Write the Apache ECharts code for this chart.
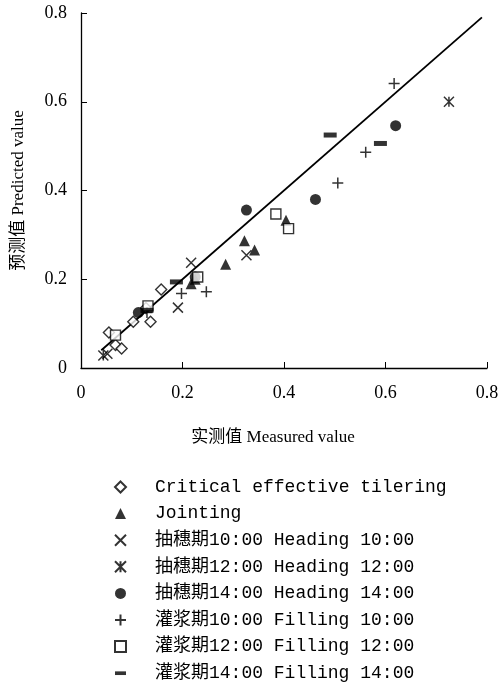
<!DOCTYPE html>
<html>
<head>
<meta charset="utf-8">
<script src="https://cdn.jsdelivr.net/npm/echarts@6/dist/echarts.min.js"></script>
<style>
  html, body { margin: 0; padding: 0; background: #fff; }
  #chart { width: 503px; height: 688px; }
</style>
</head>
<body>
<div id="chart"></div>
<script>
// axis ticks
var tickValues = [0, 0.2, 0.4, 0.6, 0.8];

// measured / predicted pairs, one array per stage
var tilleringPts = [[0.055, 0.080], [0.068, 0.052], [0.080, 0.044], [0.103, 0.104], [0.137, 0.104], [0.128, 0.135], [0.158, 0.177]];
var jointingPts  = [[0.217, 0.190], [0.225, 0.200], [0.285, 0.234], [0.322, 0.287], [0.342, 0.266], [0.404, 0.333]];
var heading10Pts = [[0.052, 0.032], [0.191, 0.136], [0.217, 0.237], [0.326, 0.254]];
var heading12Pts = [[0.044, 0.028], [0.725, 0.600]];
var heading14Pts = [[0.113, 0.125], [0.225, 0.205], [0.326, 0.356], [0.462, 0.380], [0.620, 0.546]];
var filling10Pts = [[0.130, 0.125], [0.198, 0.168], [0.247, 0.172], [0.506, 0.417], [0.561, 0.486], [0.617, 0.641]];
var filling12Pts = [[0.068, 0.074], [0.132, 0.140], [0.230, 0.205], [0.384, 0.347], [0.409, 0.314]];
var filling14Pts = [[0.130, 0.130], [0.188, 0.194], [0.491, 0.525], [0.590, 0.506]];

// 1:1 line
var oneToOne = [[0.04, 0.04], [0.79, 0.79]];

var names = [
  'Critical effective tilering',
  'Jointing',
  '抽穗期10:00 Heading 10:00',
  '抽穗期12:00 Heading 12:00',
  '抽穗期14:00 Heading 14:00',
  '灌浆期10:00 Filling 10:00',
  '灌浆期12:00 Filling 12:00',
  '灌浆期14:00 Filling 14:00'
];

var crossPath = 'path://M0,0L10,10M10,0L0,10';
var starPath  = 'path://M0,0L10,10M10,0L0,10M5,0L5,10';
var plusPath  = 'path://M5,0L5,10M0,5L10,5';
var dashPath  = 'path://M0,0L12,0L12,4L0,4Z';

var hollow = { color: '#fff', borderColor: '#000', borderWidth: 1.4 };
var solid  = { color: '#000', borderWidth: 0 };
var stroke = { color: 'transparent', borderColor: '#000', borderWidth: 1.5 };

function pts(name, data, symbol, size, style, keep) {
  return {
    name: name,
    type: 'scatter',
    data: data,
    symbol: symbol,
    symbolSize: size,
    symbolKeepAspect: keep !== false,
    itemStyle: style,
    z: 3
  };
}

var chart = echarts.init(document.getElementById('chart'));

chart.setOption({
  animation: false,
  color: ['#000'],
  grid: { left: 81, right: 16, top: 13, bottom: 320 },
  textStyle: { fontFamily: 'Liberation Serif, Noto Sans CJK SC' },
  legend: {
    orient: 'vertical',
    left: 114,
    top: 478,
    height: 209,
    padding: 0,
    itemWidth: 11,
    itemHeight: 11,
    itemGap: 8.6,
    symbolKeepAspect: true,
    selectedMode: false,
    textStyle: {
      fontFamily: 'Liberation Mono, Noto Sans CJK SC',
      fontSize: 18,
      color: '#000',
      lineHeight: 18,
      padding: [0, 0, 0, 24]
    },
    data: [
      { name: names[0], icon: 'diamond' },
      { name: names[1], icon: 'triangle' },
      { name: names[2], icon: crossPath },
      { name: names[3], icon: starPath },
      { name: names[4], icon: 'circle' },
      { name: names[5], icon: plusPath },
      { name: names[6], icon: 'rect' },
      { name: names[7], icon: dashPath }
    ]
  },
  xAxis: {
    type: 'value',
    min: 0,
    max: 0.8,
    interval: 0.2,
    name: '实测值 Measured value',
    nameLocation: 'middle',
    nameGap: 61,
    nameTextStyle: { fontSize: 17, color: '#000', padding: [0, 22, 0, 0] },
    axisLine: { show: true, lineStyle: { color: '#000', width: 1.3 } },
    axisTick: { show: true, inside: true, length: 6, lineStyle: { color: '#000' } },
    axisLabel: {
      color: '#000', fontSize: 18, margin: 16,
      formatter: function (v) { return v === 0 ? '0' : v.toFixed(1); }
    },
    splitLine: { show: false }
  },
  yAxis: {
    type: 'value',
    min: 0,
    max: 0.8,
    interval: 0.2,
    name: '预测值 Predicted value',
    nameLocation: 'middle',
    nameGap: 54,
    nameTextStyle: { fontSize: 17, color: '#000' },
    axisLine: { show: true, lineStyle: { color: '#000', width: 1.3 } },
    axisTick: { show: true, inside: true, length: 6, lineStyle: { color: '#000' } },
    axisLabel: {
      color: '#000', fontSize: 18, margin: 14,
      formatter: function (v) { return v === 0 ? '0' : v.toFixed(1); }
    },
    splitLine: { show: false }
  },
  series: [
    {
      name: '1:1',
      type: 'line',
      data: oneToOne,
      symbol: 'none',
      silent: true,
      lineStyle: { color: '#000', width: 1.8 },
      z: 2
    },
    pts(names[0], tilleringPts, 'diamond', 11, hollow),
    pts(names[1], jointingPts, 'triangle', 11, solid),
    pts(names[2], heading10Pts, crossPath, 10, stroke),
    pts(names[3], heading12Pts, starPath, 10, stroke),
    pts(names[4], heading14Pts, 'circle', 11, solid),
    pts(names[5], filling10Pts, plusPath, 11, stroke),
    pts(names[6], filling12Pts, 'rect', 10, hollow),
    pts(names[7], filling14Pts, 'rect', [13, 5], solid, false)
  ]
});
</script>
</body>
</html>
